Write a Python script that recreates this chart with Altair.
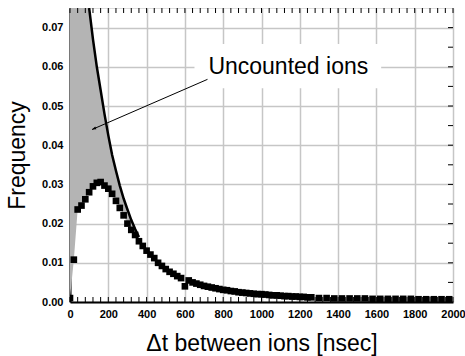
import altair as alt
import pandas as pd

# ---- data ----
t_points = [0, 20, 40, 60, 80, 100, 120, 140, 160, 180, 200, 220, 240, 260, 280, 300,
            320, 340, 360, 380, 400, 420, 440, 460, 480, 500, 520, 540, 560, 580, 600,
            620, 640, 660, 680, 700, 720, 740, 760, 780, 800, 820, 840, 860, 880, 900,
            920, 940, 960, 980, 1000, 1020, 1040, 1060, 1080, 1100, 1120, 1140, 1160,
            1180, 1200, 1220, 1240, 1260, 1300, 1340, 1380, 1420, 1460, 1500, 1540,
            1580, 1620, 1660, 1700, 1740, 1780, 1820, 1860, 1900, 1940, 1980]
freq_points = [0.0010, 0.0108, 0.0236, 0.0246, 0.0262, 0.0280, 0.0295, 0.0304, 0.0306,
               0.0297, 0.0289, 0.0276, 0.0258, 0.0240, 0.0221, 0.0200, 0.0184, 0.0171,
               0.0155, 0.0143, 0.0131, 0.0121, 0.0112, 0.0100, 0.0092, 0.0084, 0.0077,
               0.0072, 0.0066, 0.0061, 0.0040, 0.0055, 0.0050, 0.0047, 0.0044, 0.0041,
               0.0039, 0.0037, 0.0035, 0.0033, 0.0031, 0.0030, 0.0028, 0.0027, 0.0025,
               0.0024, 0.0023, 0.0022, 0.0021, 0.0020, 0.0020, 0.0019, 0.0018, 0.0017,
               0.0017, 0.0016, 0.0015, 0.0015, 0.0014, 0.0014, 0.0013, 0.0013, 0.0012,
               0.0012, 0.0010, 0.0010, 0.0009, 0.0009, 0.0009, 0.0009, 0.0009, 0.0008,
               0.0008, 0.0008, 0.0008, 0.0008, 0.0008, 0.0007, 0.0007, 0.0007, 0.0007,
               0.0007]

t_curve = [100, 120, 140, 160, 180, 200, 220, 240, 260, 280, 300, 320, 340, 360]
freq_curve = [0.0750, 0.0670, 0.0600, 0.0540, 0.0480, 0.0425, 0.0375, 0.0335, 0.0297,
              0.0264, 0.0236, 0.0209, 0.0186, 0.0166]

# part of the shaded band that runs off the top of the plot
t_band_top = [0, 20, 40, 60, 80]
freq_band_top = [0.075, 0.075, 0.075, 0.075, 0.075]

x_major = [0, 200, 400, 600, 800, 1000, 1200, 1400, 1600, 1800, 2000]
y_major = [0.00, 0.01, 0.02, 0.03, 0.04, 0.05, 0.06, 0.07]
x_minor = [0, 40, 80, 120, 160, 200, 240, 280, 320, 360, 400, 440, 480, 520, 560, 600,
           640, 680, 720, 760, 800, 840, 880, 920, 960, 1000, 1040, 1080, 1120, 1160,
           1200, 1240, 1280, 1320, 1360, 1400, 1440, 1480, 1520, 1560, 1600, 1640, 1680,
           1720, 1760, 1800, 1840, 1880, 1920, 1960, 2000]
y_minor = [0.005, 0.010, 0.015, 0.020, 0.025, 0.030, 0.035, 0.040, 0.045, 0.050,
           0.055, 0.060, 0.065, 0.070]

label_text = ["Uncounted ions"]

# ---- tables ----
pts = pd.DataFrame({"t": t_points, "f": freq_points})
curve = pd.DataFrame({"t": t_curve, "f": freq_curve})
upper = pd.concat([pd.DataFrame({"t": t_band_top, "up": freq_band_top}),
                   pd.DataFrame({"t": t_curve, "up": freq_curve})])
band = upper.merge(pts.rename(columns={"f": "lo"}), on="t")

W, H = 383, 294
FONT = "Liberation Sans"

xs = alt.Scale(domain=[0, 2000], nice=False, zero=False)
ys = alt.Scale(domain=[0, 0.075], nice=False, zero=False)

x_axis = alt.Axis(values=x_major, format="d", title="Δt between ions [nsec]",
                  grid=True, gridColor="#c6c6c6", gridWidth=1.5, ticks=False,
                  domainColor="black", domainWidth=2, labelFont=FONT, labelFontSize=11,
                  labelFontWeight="bold", labelColor="black", labelPadding=6,
                  labelOverlap=False,
                  titleFont=FONT, titleFontSize=23, titleFontWeight="normal",
                  titleColor="black", titlePadding=13, labelFlush=False)
y_axis = alt.Axis(values=y_major, format=".2f", title="Frequency",
                  grid=True, gridColor="#c6c6c6", gridWidth=1.5, ticks=False,
                  domainColor="black", domainWidth=2, labelFont=FONT, labelFontSize=11,
                  labelFontWeight="bold", labelColor="black", labelPadding=7,
                  labelOverlap=False,
                  titleFont=FONT, titleFontSize=23, titleFontWeight="normal",
                  titleColor="black", titlePadding=12, labelFlush=False)


def X(field):
    return alt.X(field, type="quantitative", scale=xs, axis=x_axis)


def Y(field):
    return alt.Y(field, type="quantitative", scale=ys, axis=y_axis)


# white box behind the annotation text
box = alt.Chart(pd.DataFrame({"x": [650], "x2": [1625], "y": [0.0545], "y2": [0.0658]})).mark_rect(
    color="white").encode(x=X("x"), x2="x2:Q", y=Y("y"), y2="y2:Q")

area = alt.Chart(band).mark_area(color="#b4b4b4", opacity=1, clip=True).encode(
    x=X("t"), y=Y("up"), y2="lo:Q")

line = alt.Chart(curve).mark_line(color="black", strokeWidth=2.5, clip=True).encode(
    x=X("t"), y=Y("f"))

points = alt.Chart(pts).mark_square(color="black", size=44, opacity=1, clip=True).encode(
    x=X("t"), y=Y("f"))

text = alt.Chart(pd.DataFrame({"x": [1140], "y": [0.0600], "s": label_text})).mark_text(
    font=FONT, fontSize=23, color="black", align="center", baseline="middle").encode(
    x=X("x"), y=Y("y"), text="s:N")

arrow_df = pd.DataFrame({"x": [718], "y": [0.0568], "x2": [115], "y2": [0.0440]})
arrow_line = alt.Chart(arrow_df).mark_rule(color="black", strokeWidth=1).encode(
    x=X("x"), y=Y("y"), x2="x2:Q", y2="y2:Q")
arrow_head = alt.Chart(arrow_df).mark_point(
    shape="M-0.45,1.3L0,0L0.45,1.3Z", filled=True, color="black", size=40,
    angle=247, opacity=1).encode(x=X("x2"), y=Y("y2"))

# inward minor/major ticks
xt = pd.DataFrame({"t": x_minor})
yt = pd.DataFrame({"f": y_minor})
top_ticks = alt.Chart(xt).mark_rule(color="black", strokeWidth=1).encode(
    x=X("t"), y=alt.value(0), y2=alt.value(5))
bot_ticks = alt.Chart(xt).mark_rule(color="black", strokeWidth=1).encode(
    x=X("t"), y=alt.value(H), y2=alt.value(H - 5))
right_ticks = alt.Chart(yt).mark_rule(color="black", strokeWidth=1).encode(
    y=Y("f"), x=alt.value(W), x2=alt.value(W - 5))

chart = alt.layer(
    box, area, line, points, arrow_line, arrow_head, text,
    top_ticks, bot_ticks, right_ticks
).properties(
    width=W, height=H,
    autosize=alt.AutoSizeParams(type="none"),
    padding={"left": 70, "top": 8, "right": 12, "bottom": 54},
).configure_view(stroke="black", strokeWidth=1.5).configure(background="white")

chart.save("out.html", embed_options={"renderer": "svg", "actions": False})
